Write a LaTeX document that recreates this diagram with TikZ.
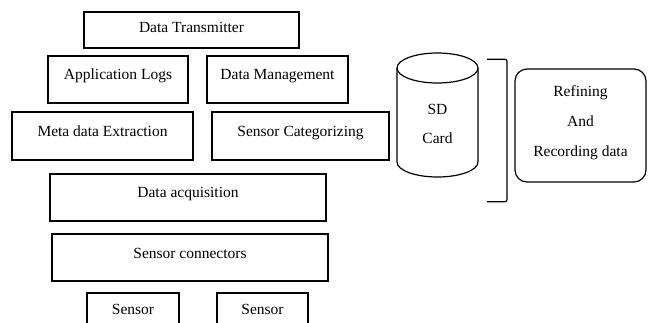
\documentclass[tikz,border=0pt]{standalone}
\usepackage{fontspec}
\setmainfont{Liberation Serif}
\tikzstyle{B} = [rectangle,draw,line width=1.2pt,inner sep=0pt]
\tikzstyle{T} = [anchor=base,inner sep=0pt,font=\fontsize{15.5}{18}\selectfont]

\begin{document}
\begin{tikzpicture}[x=1pt,y=-1pt]
	\clip (0,0) rectangle (648,322);
	
	% stack of layers
	\node [B,minimum width=215,minimum height=36] (dt) at(191.5,30) {};
	\node [T] (dtt) at(191.5,32) {Data Transmitter};
	\node [B,minimum width=140,minimum height=47] (al) at(118,79.5) {};
	\node [T] (alt) at(118,79.5) {Application Logs};
	\node [B,minimum width=141,minimum height=47] (dm) at(277.5,79.5) {};
	\node [T] (dmt) at(277.5,79.5) {Data Management};
	\node [B,minimum width=181,minimum height=48] (me) at(102.5,136) {};
	\node [T] (met) at(102.5,136.7) {Meta data Extraction};
	\node [B,minimum width=177,minimum height=48] (sc) at(300.5,136) {};
	\node [T] (sct) at(300.5,136.7) {Sensor Categorizing};
	\node [B,minimum width=276,minimum height=47] (da) at(188,197.5) {};
	\node [T] (dat) at(188,197.3) {Data acquisition};
	\node [B,minimum width=276,minimum height=47] (cn) at(190,257.5) {};
	\node [T] (cnt) at(190,258.3) {Sensor connectors};
	\node [B,minimum width=92,minimum height=47] (s1) at(133,316.5) {};
	\node [T] (s1t) at(133,314) {Sensor};
	\node [B,minimum width=91,minimum height=47] (s2) at(262.5,316.5) {};
	\node [T] (s2t) at(262.5,314) {Sensor};
	%%%%%%%%%%%%%%%
	% SD card drum
	\draw [line width=1.2pt] (437.5,68) ellipse [x radius=40.5,y radius=15];
	\draw [line width=1.2pt] (397,68) -- (397,162)
	arc [start angle=180,end angle=0,x radius=40.5,y radius=15] -- (478,68);
	\node [T] (sdt) at(437.5,114) {SD};
	\node [T] (sdc) at(437.5,143.3) {Card};
	\draw [line width=1.2pt,rounded corners=2pt] (487,59.3) -- (507,59.3) -- (507,201.7) -- (487,201.7);
	%%%%%%%%%
	\node [B,rounded corners=12pt,minimum width=131,minimum height=113] (rf) at(580.5,125.5) {};
	\node [T] (rf1) at(580.5,96.7) {Refining};
	\node [T] (rf2) at(580.5,126.7) {And};
	\node [T] (rf3) at(580.5,156.7) {Recording data};
\end{tikzpicture}
\end{document}
